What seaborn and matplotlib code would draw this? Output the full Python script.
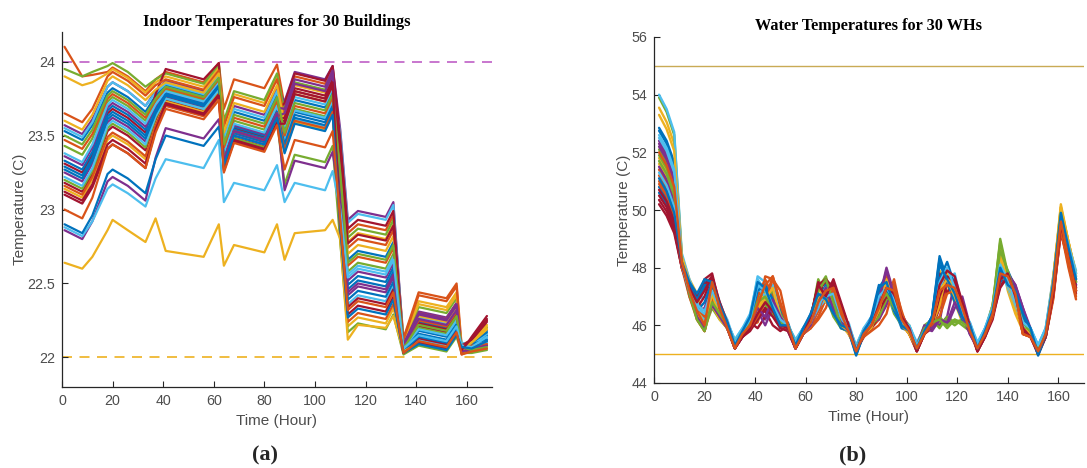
import matplotlib
matplotlib.use("Agg")
import matplotlib.pyplot as plt
import pandas as pd
import seaborn as sns

# ---------------- Panel (a): indoor temperatures (key hours) ----------------
hours_a = [1, 8, 12, 18, 20, 26, 33, 37, 41, 56, 62, 64, 68, 80, 85, 88, 92, 104, 107, 110,
           113, 117, 128, 131, 135, 141, 152, 156, 158, 162, 168]

indoor_b01 = [23.53, 23.47, 23.57, 23.79, 23.82, 23.76, 23.66, 23.77, 23.84, 23.77, 23.90, 23.46, 23.66, 23.60, 23.78, 23.54, 23.74, 23.69, 23.80, 23.27, 22.66, 22.72, 22.68, 22.78, 22.07, 22.24, 22.20, 22.30, 22.05, 22.10, 22.18]
indoor_b02 = [24.10, 23.90, 23.91, 23.93, 23.96, 23.90, 23.80, 23.88, 23.93, 23.86, 23.99, 23.68, 23.88, 23.82, 23.98, 23.70, 23.90, 23.85, 23.96, 23.45, 22.84, 22.90, 22.86, 22.96, 22.13, 22.44, 22.40, 22.50, 22.08, 22.12, 22.12]
indoor_b03 = [23.90, 23.84, 23.86, 23.92, 23.95, 23.89, 23.79, 23.86, 23.90, 23.83, 23.96, 23.58, 23.78, 23.72, 23.90, 23.64, 23.84, 23.79, 23.90, 23.39, 22.78, 22.84, 22.80, 22.90, 22.11, 22.38, 22.34, 22.44, 22.04, 22.12, 22.22]
indoor_b04 = [23.57, 23.51, 23.61, 23.83, 23.86, 23.80, 23.70, 23.80, 23.87, 23.80, 23.93, 23.50, 23.70, 23.64, 23.82, 23.73, 23.93, 23.88, 23.97, 23.54, 22.93, 22.99, 22.95, 23.05, 22.09, 22.31, 22.27, 22.37, 22.06, 22.09, 22.14]
indoor_b05 = [23.95, 23.90, 23.93, 23.97, 23.99, 23.93, 23.83, 23.88, 23.92, 23.85, 23.98, 23.60, 23.80, 23.74, 23.92, 23.66, 23.86, 23.81, 23.92, 23.42, 22.81, 22.87, 22.83, 22.93, 22.10, 22.34, 22.30, 22.40, 22.03, 22.10, 22.20]
indoor_b06 = [23.55, 23.49, 23.59, 23.83, 23.86, 23.80, 23.70, 23.79, 23.85, 23.78, 23.91, 23.48, 23.68, 23.62, 23.80, 23.56, 23.76, 23.71, 23.82, 23.52, 22.91, 22.97, 22.93, 23.03, 22.08, 22.27, 22.23, 22.33, 22.07, 22.08, 22.13]
indoor_b07 = [23.31, 23.25, 23.37, 23.65, 23.68, 23.62, 23.52, 23.78, 23.95, 23.88, 23.99, 23.35, 23.55, 23.49, 23.67, 23.72, 23.92, 23.87, 23.97, 23.48, 22.87, 22.93, 22.89, 22.99, 22.06, 22.21, 22.17, 22.27, 22.04, 22.14, 22.28]
indoor_b08 = [23.33, 23.27, 23.39, 23.67, 23.70, 23.64, 23.54, 23.69, 23.79, 23.72, 23.85, 23.36, 23.56, 23.50, 23.68, 23.46, 23.66, 23.61, 23.72, 23.10, 22.49, 22.55, 22.51, 22.61, 22.05, 22.18, 22.14, 22.24, 22.08, 22.09, 22.15]
indoor_b09 = [23.65, 23.59, 23.68, 23.90, 23.93, 23.87, 23.77, 23.84, 23.88, 23.81, 23.94, 23.56, 23.76, 23.70, 23.88, 23.60, 23.80, 23.75, 23.86, 23.35, 22.74, 22.80, 22.76, 22.86, 22.09, 22.30, 22.26, 22.36, 22.05, 22.07, 22.10]
indoor_b10 = [23.60, 23.54, 23.64, 23.87, 23.90, 23.84, 23.74, 23.81, 23.86, 23.79, 23.92, 23.52, 23.72, 23.66, 23.84, 23.58, 23.78, 23.73, 23.84, 23.31, 22.70, 22.76, 22.72, 22.82, 22.08, 22.28, 22.24, 22.34, 22.09, 22.11, 22.21]
indoor_b11 = [23.36, 23.30, 23.42, 23.69, 23.72, 23.66, 23.56, 23.70, 23.80, 23.73, 23.86, 23.37, 23.57, 23.51, 23.69, 23.68, 23.88, 23.83, 23.94, 23.13, 22.52, 22.58, 22.54, 22.64, 22.09, 22.29, 22.25, 22.35, 22.03, 22.06, 22.11]
indoor_b12 = [23.43, 23.37, 23.48, 23.73, 23.76, 23.70, 23.60, 23.73, 23.81, 23.74, 23.87, 23.40, 23.60, 23.54, 23.72, 23.48, 23.68, 23.63, 23.74, 23.19, 22.58, 22.64, 22.60, 22.70, 22.06, 22.20, 22.16, 22.26, 22.06, 22.04, 22.06]
indoor_b13 = [23.38, 23.32, 23.44, 23.71, 23.74, 23.68, 23.58, 23.71, 23.80, 23.73, 23.86, 23.38, 23.58, 23.52, 23.70, 23.47, 23.67, 23.62, 23.73, 23.17, 22.56, 22.62, 22.58, 22.68, 22.06, 22.19, 22.15, 22.25, 22.10, 22.08, 22.16]
indoor_b14 = [23.18, 23.12, 23.24, 23.53, 23.56, 23.50, 23.40, 23.60, 23.74, 23.67, 23.80, 23.29, 23.49, 23.43, 23.61, 23.62, 23.82, 23.77, 23.88, 23.38, 22.77, 22.83, 22.79, 22.89, 22.07, 22.23, 22.19, 22.29, 22.05, 22.12, 22.25]
indoor_b15 = [23.29, 23.23, 23.35, 23.63, 23.66, 23.60, 23.50, 23.67, 23.78, 23.71, 23.84, 23.34, 23.54, 23.48, 23.66, 23.44, 23.64, 23.59, 23.70, 23.07, 22.46, 22.52, 22.48, 22.58, 22.05, 22.16, 22.12, 22.22, 22.07, 22.10, 22.17]
indoor_b16 = [23.47, 23.41, 23.51, 23.75, 23.78, 23.72, 23.62, 23.74, 23.82, 23.75, 23.88, 23.42, 23.62, 23.56, 23.74, 23.50, 23.70, 23.65, 23.76, 23.23, 22.62, 22.68, 22.64, 22.74, 22.07, 22.25, 22.21, 22.31, 22.02, 22.05, 22.09]
indoor_b17 = [23.14, 23.08, 23.20, 23.47, 23.50, 23.44, 23.34, 23.57, 23.73, 23.66, 23.79, 23.28, 23.48, 23.42, 23.60, 23.39, 23.59, 23.54, 23.65, 22.82, 22.21, 22.27, 22.23, 22.33, 22.11, 22.36, 22.32, 22.42, 22.06, 22.11, 22.19]
indoor_b18 = [23.25, 23.19, 23.31, 23.59, 23.62, 23.56, 23.46, 23.64, 23.76, 23.69, 23.82, 23.31, 23.51, 23.45, 23.63, 23.65, 23.85, 23.80, 23.91, 23.03, 22.42, 22.48, 22.44, 22.54, 22.08, 22.26, 22.22, 22.32, 22.04, 22.05, 22.08]
indoor_b19 = [23.20, 23.14, 23.26, 23.55, 23.58, 23.52, 23.42, 23.62, 23.75, 23.68, 23.81, 23.28, 23.48, 23.42, 23.60, 23.17, 23.37, 23.32, 23.43, 22.78, 22.17, 22.23, 22.19, 22.29, 22.02, 22.08, 22.04, 22.14, 22.03, 22.03, 22.05]
indoor_b20 = [23.22, 23.16, 23.28, 23.57, 23.60, 23.54, 23.44, 23.63, 23.75, 23.68, 23.81, 23.30, 23.50, 23.44, 23.62, 23.41, 23.61, 23.56, 23.67, 22.97, 22.36, 22.42, 22.38, 22.48, 22.04, 22.12, 22.08, 22.18, 22.05, 22.07, 22.10]
indoor_b21 = [23.12, 23.06, 23.17, 23.44, 23.47, 23.41, 23.31, 23.56, 23.72, 23.65, 23.78, 23.27, 23.47, 23.41, 23.59, 23.60, 23.80, 23.75, 23.86, 22.95, 22.34, 22.40, 22.36, 22.46, 22.04, 22.13, 22.09, 22.19, 22.08, 22.12, 22.24]
indoor_b22 = [23.27, 23.21, 23.33, 23.61, 23.64, 23.58, 23.48, 23.65, 23.77, 23.70, 23.83, 23.32, 23.52, 23.46, 23.64, 23.42, 23.62, 23.57, 23.68, 23.00, 22.39, 22.45, 22.41, 22.51, 22.04, 22.14, 22.10, 22.20, 22.06, 22.09, 22.12]
indoor_b23 = [23.16, 23.10, 23.22, 23.49, 23.52, 23.46, 23.36, 23.56, 23.70, 23.63, 23.76, 23.33, 23.53, 23.47, 23.65, 23.40, 23.60, 23.55, 23.66, 22.85, 22.24, 22.30, 22.26, 22.36, 22.12, 22.42, 22.38, 22.48, 22.03, 22.08, 22.09]
indoor_b24 = [22.64, 22.60, 22.68, 22.86, 22.93, 22.86, 22.78, 22.94, 22.72, 22.68, 22.90, 22.62, 22.76, 22.71, 22.90, 22.66, 22.84, 22.86, 22.93, 22.80, 22.12, 22.22, 22.20, 22.28, 22.04, 22.10, 22.07, 22.16, 22.05, 22.10, 22.19]
indoor_b25 = [22.86, 22.80, 22.92, 23.19, 23.22, 23.16, 23.06, 23.35, 23.55, 23.48, 23.61, 23.33, 23.53, 23.47, 23.65, 23.13, 23.33, 23.28, 23.39, 23.05, 22.44, 22.50, 22.46, 22.56, 22.09, 22.30, 22.26, 22.36, 22.04, 22.06, 22.08]
indoor_b26 = [23.50, 23.44, 23.54, 23.77, 23.80, 23.74, 23.64, 23.75, 23.83, 23.76, 23.89, 23.44, 23.64, 23.58, 23.76, 23.52, 23.72, 23.67, 23.78, 23.25, 22.64, 22.70, 22.66, 22.76, 22.06, 22.22, 22.18, 22.28, 22.07, 22.05, 22.07]
indoor_b27 = [22.88, 22.82, 22.92, 23.14, 23.17, 23.11, 23.02, 23.21, 23.34, 23.28, 23.47, 23.05, 23.18, 23.13, 23.30, 23.05, 23.18, 23.13, 23.26, 23.00, 22.54, 22.60, 22.56, 22.66, 22.06, 22.15, 22.11, 22.21, 22.08, 22.07, 22.14]
indoor_b28 = [23.10, 23.04, 23.15, 23.41, 23.44, 23.38, 23.28, 23.54, 23.71, 23.64, 23.77, 23.26, 23.46, 23.40, 23.58, 23.58, 23.78, 23.73, 23.84, 22.90, 22.29, 22.35, 22.31, 22.41, 22.03, 22.10, 22.06, 22.16, 22.05, 22.13, 22.26]
indoor_b29 = [22.90, 22.84, 22.96, 23.24, 23.27, 23.21, 23.11, 23.34, 23.50, 23.43, 23.56, 23.30, 23.50, 23.44, 23.62, 23.38, 23.58, 23.53, 23.64, 22.88, 22.27, 22.33, 22.29, 22.39, 22.03, 22.09, 22.05, 22.15, 22.07, 22.06, 22.11]
indoor_b30 = [23.00, 22.94, 23.08, 23.41, 23.44, 23.38, 23.28, 23.52, 23.68, 23.61, 23.74, 23.25, 23.45, 23.39, 23.57, 23.27, 23.47, 23.42, 23.53, 22.93, 22.32, 22.38, 22.34, 22.44, 22.03, 22.11, 22.07, 22.17, 22.02, 22.04, 22.06]

indoor_series = [indoor_b01, indoor_b02, indoor_b03, indoor_b04, indoor_b05, indoor_b06, indoor_b07,
                 indoor_b08, indoor_b09, indoor_b10, indoor_b11, indoor_b12, indoor_b13, indoor_b14,
                 indoor_b15, indoor_b16, indoor_b17, indoor_b18, indoor_b19, indoor_b20, indoor_b21,
                 indoor_b22, indoor_b23, indoor_b24, indoor_b25, indoor_b26, indoor_b27, indoor_b28,
                 indoor_b29, indoor_b30]
indoor_upper = 24.0
indoor_lower = 22.0

# ---------------- Panel (b): water heater temperatures ----------------
hours_b = [2, 5, 8, 11, 14, 17, 20, 23, 26, 29, 32, 35, 38, 41, 44, 47, 50, 53, 56, 59, 62, 65, 68, 71,
           74, 77, 80, 83, 86, 89, 92, 95, 98, 101, 104, 107, 110, 113, 116, 119, 122, 125, 128, 131,
           134, 137, 140, 143, 146, 149, 152, 155, 158, 161, 164, 167]

wh_01 = [52.85, 52.40, 51.65, 48.30, 47.40, 46.80, 47.50, 47.60, 46.60, 46.00, 45.30, 45.70, 46.10, 47.40, 47.00, 46.40, 45.90, 46.10, 45.30, 45.80, 46.40, 47.20, 47.30, 46.60, 46.00, 45.80, 45.10, 45.80, 46.20, 47.10, 47.60, 46.60, 45.90, 45.80, 45.20, 45.80, 46.20, 47.50, 47.80, 47.00, 46.20, 45.90, 45.20, 45.70, 46.60, 48.20, 47.40, 46.60, 45.90, 45.70, 45.10, 45.70, 47.30, 49.60, 48.60, 47.60]
wh_02 = [51.40, 50.95, 50.20, 48.20, 47.20, 46.50, 46.00, 47.20, 46.40, 45.90, 45.30, 45.80, 46.00, 46.40, 47.70, 47.60, 46.60, 46.00, 45.40, 45.80, 45.90, 46.60, 47.40, 47.00, 46.20, 45.70, 45.20, 45.70, 45.90, 46.60, 47.50, 47.30, 46.30, 45.80, 45.20, 45.70, 46.00, 46.80, 47.40, 47.20, 46.40, 45.80, 45.20, 45.80, 46.50, 47.60, 47.50, 46.80, 45.70, 45.60, 45.20, 45.70, 47.20, 49.40, 48.40, 47.20]
wh_03 = [53.55, 53.05, 52.30, 48.40, 47.60, 47.10, 46.20, 47.30, 46.70, 46.00, 45.40, 45.70, 46.20, 46.80, 47.30, 47.10, 46.20, 45.90, 45.30, 45.90, 46.10, 46.90, 47.10, 46.80, 46.10, 45.80, 45.20, 45.80, 46.00, 46.50, 47.80, 47.00, 46.10, 45.70, 45.30, 45.90, 46.10, 47.90, 47.40, 46.80, 46.10, 45.90, 45.30, 45.80, 46.70, 48.50, 47.20, 46.40, 45.80, 45.70, 45.20, 45.80, 47.60, 50.10, 48.90, 47.80]
wh_04 = [52.30, 51.85, 51.10, 48.10, 47.30, 46.40, 45.80, 46.80, 46.30, 45.90, 45.20, 45.70, 45.90, 46.20, 46.60, 47.20, 46.50, 45.90, 45.20, 45.70, 46.00, 46.50, 47.00, 47.40, 46.50, 45.90, 45.10, 45.70, 46.10, 46.80, 47.40, 46.90, 46.00, 45.80, 45.30, 45.90, 46.20, 46.10, 47.60, 47.30, 46.60, 45.70, 45.20, 45.70, 46.40, 47.80, 47.60, 47.20, 46.40, 45.80, 45.10, 45.70, 47.10, 49.50, 48.30, 47.30]
wh_05 = [53.90, 53.40, 52.60, 48.40, 47.50, 46.70, 46.30, 47.10, 46.50, 46.10, 45.40, 45.80, 46.10, 47.00, 46.70, 46.40, 46.10, 45.90, 45.40, 45.80, 46.00, 47.50, 47.00, 46.60, 45.90, 45.80, 45.20, 45.80, 46.00, 46.60, 47.20, 46.40, 46.00, 45.80, 45.30, 45.90, 45.90, 46.10, 46.20, 46.00, 46.20, 45.90, 45.30, 45.80, 46.60, 48.80, 47.70, 46.70, 46.00, 45.80, 45.20, 45.80, 47.50, 50.00, 48.70, 47.60]
wh_06 = [54.00, 53.50, 52.70, 48.50, 47.60, 46.90, 47.00, 47.40, 46.60, 46.10, 45.50, 45.90, 46.40, 47.60, 47.20, 46.60, 46.00, 46.00, 45.50, 45.90, 46.20, 46.80, 47.20, 46.90, 46.10, 45.90, 45.30, 45.90, 46.30, 46.90, 47.50, 47.00, 46.20, 45.90, 45.40, 45.90, 46.10, 47.60, 47.90, 47.10, 46.30, 46.00, 45.40, 45.90, 46.70, 48.40, 47.60, 46.90, 46.00, 45.80, 45.30, 45.90, 47.70, 49.80, 48.80, 47.90]
wh_07 = [50.20, 49.80, 49.20, 48.00, 47.20, 46.60, 47.00, 47.70, 46.50, 45.90, 45.20, 45.60, 45.90, 46.30, 46.50, 46.00, 45.80, 46.00, 45.20, 45.70, 46.10, 47.20, 47.50, 47.40, 46.60, 45.90, 45.10, 45.70, 45.90, 46.40, 46.90, 47.20, 46.40, 45.80, 45.20, 45.70, 45.90, 46.60, 47.60, 47.40, 46.60, 46.00, 45.10, 45.60, 46.30, 47.50, 47.70, 46.70, 45.80, 45.60, 45.10, 45.60, 47.00, 49.30, 48.20, 47.10]
wh_08 = [52.75, 52.30, 51.55, 48.30, 47.40, 46.90, 47.30, 47.50, 46.80, 46.10, 45.30, 45.80, 46.20, 47.00, 47.50, 46.80, 46.20, 46.00, 45.40, 45.90, 46.30, 47.00, 46.80, 46.70, 46.20, 45.90, 45.00, 45.70, 46.30, 47.40, 47.20, 46.70, 46.00, 45.80, 45.10, 45.80, 46.30, 48.40, 47.60, 46.90, 46.40, 46.00, 45.20, 45.80, 46.60, 48.20, 47.50, 47.00, 46.30, 45.80, 45.00, 45.70, 47.40, 49.90, 48.70, 47.50]
wh_09 = [51.00, 50.55, 49.80, 48.10, 47.10, 46.40, 45.80, 46.90, 46.30, 45.90, 45.20, 45.70, 46.00, 46.10, 46.90, 47.70, 46.80, 46.00, 45.30, 45.70, 45.90, 46.30, 46.90, 47.00, 46.50, 45.80, 45.20, 45.60, 45.90, 46.20, 46.80, 47.60, 46.40, 45.80, 45.20, 45.70, 46.10, 46.60, 47.20, 47.30, 46.60, 45.80, 45.20, 45.70, 46.40, 47.90, 47.80, 47.10, 45.70, 45.60, 45.20, 45.60, 47.00, 49.40, 48.10, 47.00]
wh_10 = [53.30, 52.80, 52.05, 48.40, 47.50, 46.60, 46.10, 47.30, 46.40, 46.00, 45.30, 45.70, 46.00, 46.60, 47.40, 46.80, 46.10, 45.90, 45.30, 45.80, 46.20, 47.40, 47.00, 46.50, 46.00, 45.80, 45.20, 45.70, 46.00, 46.70, 47.40, 46.80, 46.00, 45.70, 45.20, 45.80, 46.10, 47.30, 47.70, 47.10, 46.30, 45.90, 45.20, 45.80, 46.60, 48.30, 47.60, 46.80, 46.00, 45.70, 45.10, 45.70, 47.60, 50.20, 48.90, 47.70]
wh_11 = [52.40, 51.95, 51.20, 48.20, 47.30, 46.50, 46.60, 47.40, 46.30, 45.90, 45.30, 45.70, 46.10, 46.60, 46.20, 46.70, 46.00, 45.90, 45.30, 45.80, 46.10, 46.70, 47.10, 46.80, 46.30, 45.90, 45.10, 45.80, 46.20, 46.90, 48.00, 47.10, 46.20, 45.80, 45.20, 45.90, 46.10, 46.00, 46.30, 47.50, 46.50, 45.70, 45.30, 45.80, 46.50, 48.00, 47.80, 47.40, 46.60, 45.90, 45.20, 45.80, 47.30, 49.70, 48.50, 47.40]
wh_12 = [52.10, 51.65, 50.90, 48.20, 47.00, 46.30, 45.90, 46.60, 46.20, 45.90, 45.30, 45.80, 46.20, 46.90, 47.20, 46.60, 46.10, 46.00, 45.40, 45.80, 46.20, 47.60, 47.00, 46.30, 45.90, 45.80, 45.20, 45.80, 46.00, 46.40, 47.30, 46.80, 46.30, 46.00, 45.30, 46.00, 46.20, 45.90, 46.30, 46.10, 46.20, 45.90, 45.30, 45.80, 46.70, 48.90, 47.60, 46.80, 45.90, 45.70, 45.20, 45.70, 47.40, 49.90, 48.60, 47.30]
wh_13 = [52.50, 52.05, 51.30, 48.20, 47.20, 46.80, 46.20, 47.00, 46.70, 46.20, 45.40, 45.80, 46.30, 47.70, 47.50, 46.70, 46.00, 46.00, 45.40, 45.90, 46.10, 46.60, 46.90, 46.60, 46.20, 46.10, 45.20, 45.80, 46.10, 47.10, 47.20, 46.50, 46.00, 45.90, 45.30, 45.90, 46.20, 47.20, 47.90, 47.40, 46.40, 46.00, 45.30, 45.90, 46.50, 48.00, 47.30, 46.60, 46.20, 45.90, 45.30, 45.80, 47.50, 49.70, 48.80, 47.80]
wh_14 = [50.35, 49.95, 49.30, 48.00, 47.30, 46.90, 47.60, 47.80, 46.70, 46.00, 45.20, 45.60, 46.10, 45.90, 46.30, 46.80, 46.00, 45.90, 45.20, 45.70, 46.20, 47.50, 47.10, 47.50, 46.70, 46.00, 45.10, 45.60, 45.90, 46.30, 47.20, 46.90, 46.10, 45.70, 45.10, 45.70, 46.20, 47.80, 47.10, 47.60, 46.60, 45.90, 45.10, 45.60, 46.20, 47.40, 47.60, 47.00, 45.90, 45.60, 45.00, 45.60, 47.00, 49.20, 48.20, 47.20]
wh_15 = [50.60, 50.20, 49.50, 48.10, 47.20, 46.50, 46.80, 47.50, 46.60, 46.00, 45.30, 45.70, 46.00, 46.20, 47.00, 47.40, 46.50, 45.90, 45.20, 45.70, 46.20, 46.90, 47.40, 46.80, 46.10, 45.80, 44.95, 45.70, 46.00, 47.30, 47.70, 46.80, 46.00, 45.80, 45.20, 45.80, 46.20, 47.60, 48.20, 47.40, 46.50, 45.90, 45.20, 45.70, 46.40, 47.50, 47.90, 47.30, 46.50, 45.80, 44.95, 45.60, 47.30, 49.60, 48.40, 47.60]
wh_16 = [51.20, 50.75, 50.00, 48.20, 47.10, 46.60, 46.30, 47.40, 46.50, 45.90, 45.20, 45.70, 46.00, 47.00, 47.60, 47.00, 46.20, 45.90, 45.20, 45.70, 46.00, 46.50, 47.20, 47.10, 46.40, 45.80, 45.10, 45.70, 46.00, 46.80, 47.70, 47.20, 46.10, 45.70, 45.10, 45.70, 46.10, 47.30, 47.40, 47.20, 46.50, 45.80, 45.10, 45.70, 46.50, 48.10, 47.50, 46.90, 45.70, 45.60, 45.10, 45.70, 47.20, 49.50, 48.30, 47.20]
wh_17 = [51.80, 51.35, 50.60, 48.30, 47.30, 46.20, 45.80, 46.70, 46.20, 45.90, 45.20, 45.70, 45.90, 46.50, 47.10, 46.60, 46.00, 45.90, 45.30, 45.80, 46.30, 47.30, 46.80, 46.70, 46.00, 45.70, 45.20, 45.70, 45.90, 46.60, 47.10, 47.00, 46.20, 45.70, 45.20, 45.80, 46.00, 46.70, 47.90, 47.20, 46.40, 45.80, 45.20, 45.70, 46.70, 48.60, 47.40, 46.50, 45.90, 45.70, 45.10, 45.80, 47.70, 50.00, 48.90, 47.70]
wh_18 = [52.20, 51.75, 51.00, 48.10, 47.20, 46.40, 46.00, 46.80, 46.30, 45.90, 45.20, 45.60, 45.90, 46.50, 46.00, 46.60, 46.40, 45.80, 45.20, 45.70, 46.00, 46.80, 47.00, 47.20, 46.50, 45.80, 45.20, 45.80, 46.10, 46.20, 46.70, 47.40, 46.40, 45.90, 45.30, 45.90, 45.80, 46.20, 46.00, 46.60, 47.00, 46.00, 45.20, 45.80, 46.40, 47.70, 47.80, 47.40, 46.60, 45.80, 45.20, 45.80, 47.20, 49.60, 48.50, 47.50]
wh_19 = [51.90, 51.45, 50.70, 48.00, 47.20, 46.30, 46.00, 47.00, 46.30, 45.90, 45.30, 45.70, 46.00, 46.30, 46.90, 47.20, 46.40, 45.90, 45.30, 45.80, 46.00, 47.30, 47.70, 46.80, 46.00, 45.80, 45.20, 45.70, 46.00, 46.30, 46.90, 47.20, 46.30, 45.80, 45.30, 45.90, 46.10, 46.30, 46.00, 46.20, 46.00, 45.80, 45.30, 45.80, 46.60, 49.00, 47.80, 46.90, 46.00, 45.80, 45.20, 45.80, 47.50, 49.80, 48.60, 47.50]
wh_20 = [52.60, 52.15, 51.40, 48.20, 47.30, 46.70, 46.50, 47.20, 46.60, 46.10, 45.50, 45.90, 46.20, 47.30, 47.00, 47.40, 46.30, 46.00, 45.50, 45.90, 46.10, 46.60, 47.30, 46.60, 46.20, 46.00, 45.30, 45.90, 46.20, 46.80, 47.40, 46.70, 46.10, 46.00, 45.40, 45.90, 46.20, 47.40, 47.60, 47.80, 46.60, 46.10, 45.40, 45.90, 46.60, 48.20, 47.40, 46.70, 46.00, 45.90, 45.30, 45.90, 47.60, 49.70, 48.70, 47.70]
wh_21 = [50.50, 50.10, 49.40, 48.00, 47.40, 47.00, 47.40, 47.70, 46.80, 46.10, 45.30, 45.60, 45.80, 46.20, 46.60, 46.30, 45.90, 45.80, 45.20, 45.70, 46.30, 47.40, 47.60, 47.30, 46.70, 45.90, 45.10, 45.70, 46.00, 46.50, 47.00, 46.80, 46.20, 45.80, 45.10, 45.70, 46.00, 47.00, 47.70, 47.50, 46.70, 45.90, 45.10, 45.60, 46.30, 47.30, 47.70, 46.90, 45.80, 45.60, 45.00, 45.60, 47.10, 49.40, 48.30, 47.20]
wh_22 = [50.80, 50.40, 49.70, 48.10, 47.40, 46.90, 47.40, 47.40, 46.50, 46.00, 45.20, 45.70, 46.20, 47.20, 47.40, 46.90, 46.10, 45.90, 45.30, 45.80, 46.30, 47.00, 47.20, 46.50, 45.90, 45.80, 45.00, 45.70, 46.20, 47.20, 47.30, 46.50, 46.00, 45.80, 45.20, 45.80, 46.30, 48.30, 47.50, 46.80, 46.20, 45.90, 45.20, 45.70, 46.50, 47.90, 47.70, 47.10, 46.30, 45.80, 45.00, 45.70, 47.40, 49.80, 48.60, 47.40]
wh_23 = [50.90, 50.50, 49.80, 48.00, 47.00, 46.20, 45.80, 47.00, 46.40, 45.90, 45.20, 45.70, 45.90, 46.30, 46.80, 47.60, 47.20, 46.00, 45.20, 45.70, 45.90, 46.20, 46.60, 47.30, 46.60, 45.80, 45.20, 45.60, 45.80, 46.00, 46.40, 47.40, 46.50, 45.70, 45.20, 45.70, 46.00, 46.30, 47.10, 47.20, 46.80, 45.80, 45.20, 45.70, 46.30, 47.60, 47.70, 47.00, 45.70, 45.60, 45.20, 45.60, 46.90, 49.30, 48.00, 46.90]
wh_24 = [51.60, 51.15, 50.40, 48.30, 47.20, 46.40, 45.90, 47.10, 46.30, 45.90, 45.30, 45.70, 46.00, 46.50, 46.90, 47.30, 46.30, 45.90, 45.30, 45.70, 46.00, 46.90, 47.30, 46.70, 46.00, 45.80, 45.20, 45.70, 46.00, 46.50, 47.60, 46.80, 46.10, 45.70, 45.20, 45.80, 46.10, 47.20, 47.60, 47.00, 46.30, 45.80, 45.20, 45.70, 46.50, 48.40, 47.50, 46.80, 45.90, 45.70, 45.10, 45.70, 47.60, 50.10, 48.90, 47.80]
wh_25 = [51.50, 51.05, 50.30, 48.10, 47.10, 46.30, 45.90, 46.70, 46.30, 45.90, 45.20, 45.70, 46.00, 46.60, 46.30, 46.90, 46.30, 45.90, 45.20, 45.70, 46.00, 46.80, 47.30, 46.60, 46.10, 45.80, 45.20, 45.80, 46.20, 46.90, 47.90, 47.00, 46.20, 45.90, 45.30, 46.00, 45.90, 46.20, 46.10, 46.80, 46.30, 45.70, 45.20, 45.80, 46.50, 47.90, 47.70, 47.20, 46.50, 45.80, 45.20, 45.80, 47.30, 49.60, 48.40, 47.40]
wh_26 = [51.70, 51.25, 50.50, 48.20, 47.10, 46.20, 45.80, 46.80, 46.40, 46.00, 45.40, 45.80, 46.10, 46.80, 47.00, 46.50, 46.10, 46.00, 45.40, 45.80, 46.10, 47.20, 47.60, 46.80, 46.00, 45.90, 45.20, 45.80, 46.00, 46.70, 47.10, 46.60, 46.20, 45.90, 45.30, 45.90, 46.10, 46.20, 45.90, 46.20, 46.10, 45.90, 45.30, 45.80, 46.60, 48.60, 47.90, 47.00, 46.10, 45.80, 45.20, 45.80, 47.40, 49.90, 48.60, 47.50]
wh_27 = [51.30, 50.85, 50.10, 48.10, 47.20, 46.60, 46.40, 47.20, 46.60, 46.00, 45.40, 45.80, 46.20, 47.40, 47.20, 46.70, 46.20, 46.00, 45.40, 45.80, 46.10, 46.80, 47.00, 47.10, 46.30, 46.00, 45.20, 45.80, 46.10, 47.00, 47.30, 46.90, 46.10, 46.00, 45.30, 45.80, 46.10, 47.50, 48.00, 47.30, 46.40, 46.10, 45.30, 45.90, 46.60, 48.10, 47.60, 46.80, 46.10, 45.90, 45.30, 45.90, 47.50, 49.70, 48.80, 47.80]
wh_28 = [50.70, 50.30, 49.60, 48.10, 47.30, 46.80, 47.20, 47.70, 46.60, 46.00, 45.20, 45.60, 45.90, 46.40, 46.80, 46.50, 46.00, 45.90, 45.20, 45.70, 46.30, 47.40, 47.00, 47.60, 46.80, 46.00, 45.10, 45.70, 46.00, 46.70, 47.30, 47.10, 46.30, 45.90, 45.10, 45.70, 46.10, 47.40, 47.90, 47.70, 46.80, 46.00, 45.10, 45.70, 46.40, 47.60, 47.80, 47.00, 45.90, 45.60, 45.10, 45.60, 47.10, 49.50, 48.40, 47.30]
wh_29 = [51.10, 50.65, 49.90, 48.20, 47.50, 47.10, 47.60, 47.50, 46.70, 46.10, 45.30, 45.80, 46.30, 47.50, 47.30, 46.60, 46.00, 46.00, 45.30, 45.90, 46.40, 47.10, 46.90, 46.40, 46.00, 45.90, 45.10, 45.80, 46.20, 47.30, 47.50, 46.70, 46.00, 45.80, 45.20, 45.80, 46.30, 48.10, 47.60, 47.10, 46.30, 46.00, 45.20, 45.80, 46.50, 48.00, 47.40, 47.20, 46.40, 45.90, 45.00, 45.70, 47.50, 49.90, 48.70, 47.60]
wh_30 = [52.00, 51.55, 50.80, 48.20, 47.20, 46.50, 46.00, 47.50, 46.60, 45.90, 45.20, 45.70, 46.00, 46.70, 47.40, 47.70, 46.70, 46.00, 45.20, 45.70, 46.10, 46.80, 47.20, 47.30, 46.40, 45.80, 45.10, 45.70, 46.00, 46.60, 47.30, 47.20, 46.20, 45.80, 45.20, 45.70, 46.10, 47.20, 47.40, 47.30, 46.60, 45.80, 45.20, 45.70, 46.40, 47.80, 47.70, 47.10, 45.70, 45.60, 45.10, 45.70, 47.30, 49.60, 48.30, 47.20]

wh_series = [wh_01, wh_02, wh_03, wh_04, wh_05, wh_06, wh_07, wh_08, wh_09, wh_10,
             wh_11, wh_12, wh_13, wh_14, wh_15, wh_16, wh_17, wh_18, wh_19, wh_20,
             wh_21, wh_22, wh_23, wh_24, wh_25, wh_26, wh_27, wh_28, wh_29, wh_30]
wh_upper = 55.0
wh_lower = 45.0

# MATLAB default colour order
matlab_colors = ["#0072BD", "#D95319", "#EDB120", "#7E2F8E", "#77AC30", "#4DBEEE", "#A2142F"]

# ---------------- build long tables ----------------
def long_table(hours, series, prefix):
    rows = []
    for i, vals in enumerate(series):
        name = f"{prefix}{i + 1:02d}"
        for h, v in zip(hours, vals):
            rows.append((name, h, v))
    return pd.DataFrame(rows, columns=["unit", "hour", "temp"])

df_a = long_table(hours_a, indoor_series, "B")
df_b = long_table(hours_b, wh_series, "W")
pal_a = {f"B{i + 1:02d}": matlab_colors[i % 7] for i in range(30)}
pal_b = {f"W{i + 1:02d}": matlab_colors[i % 7] for i in range(30)}

sns.set_style("white")
plt.rcParams["font.family"] = ["Liberation Sans", "DejaVu Sans"]

W, H = 1087, 468
fig = plt.figure(figsize=(W / 100, H / 100), dpi=100)
ax1 = fig.add_axes([62 / W, 1 - 387 / H, (492 - 62) / W, (387 - 32) / H])
ax2 = fig.add_axes([654 / W, 1 - 383 / H, (1083.6 - 654) / W, (383 - 37) / H])

axis_col = "#262626"
tick_col = "#4D4D4D"

sns.lineplot(data=df_a, x="hour", y="temp", hue="unit", palette=pal_a, hue_order=list(pal_a),
             estimator=None, sort=False, legend=False, linewidth=1.6, ax=ax1)
ax1.axhline(indoor_upper, color="#BF5FC6", lw=1.2, ls=(0, (6, 4.5)), zorder=0)
ax1.axhline(indoor_lower, color="#EDB120", lw=1.2, ls=(0, (6, 4.5)), zorder=0)
ax1.set_xlim(0, 170)
ax1.set_ylim(21.8, 24.2)
ax1.set_xticks([0, 20, 40, 60, 80, 100, 120, 140, 160])
ax1.set_yticks([22, 22.5, 23, 23.5, 24])
ax1.set_yticklabels(["22", "22.5", "23", "23.5", "24"])

sns.lineplot(data=df_b, x="hour", y="temp", hue="unit", palette=pal_b, hue_order=list(pal_b),
             estimator=None, sort=False, legend=False, linewidth=1.7, ax=ax2)
ax2.axhline(wh_upper, color="#C9AA55", lw=1.0, zorder=0)
ax2.axhline(wh_lower, color="#EDB120", lw=1.0, zorder=0)
ax2.set_xlim(0, 170)
ax2.set_ylim(44, 56)
ax2.set_xticks([0, 20, 40, 60, 80, 100, 120, 140, 160])
ax2.set_yticks([44, 46, 48, 50, 52, 54, 56])

for ax in (ax1, ax2):
    for side in ("top", "right"):
        ax.spines[side].set_visible(False)
    for side in ("left", "bottom"):
        ax.spines[side].set_color(axis_col)
        ax.spines[side].set_linewidth(0.9)
    ax.tick_params(axis="both", direction="in", length=4, width=0.8, color=axis_col,
                   labelsize=10.3, labelcolor=tick_col, pad=5, left=True, bottom=True)
    ax.set_xlabel("Time (Hour)", fontsize=11, color=tick_col, labelpad=4)
    ax.set_ylabel("Temperature (C)", fontsize=11, color=tick_col, labelpad=0)

ax1.set_title("Indoor Temperatures for 30 Buildings", fontfamily="Liberation Serif",
              fontweight="bold", fontsize=12, pad=4, color="black")
ax2.set_title("Water Temperatures for 30 WHs", fontfamily="Liberation Serif",
              fontweight="bold", fontsize=11.7, pad=5, color="black")

fig.text(265 / W, 1 - 455 / H, "(a)", ha="center", va="center", fontsize=16,
         fontfamily="Liberation Serif", fontweight="bold")
fig.text(853 / W, 1 - 455 / H, "(b)", ha="center", va="center", fontsize=16,
         fontfamily="Liberation Serif", fontweight="bold")

fig.savefig("out.png", dpi=100)
